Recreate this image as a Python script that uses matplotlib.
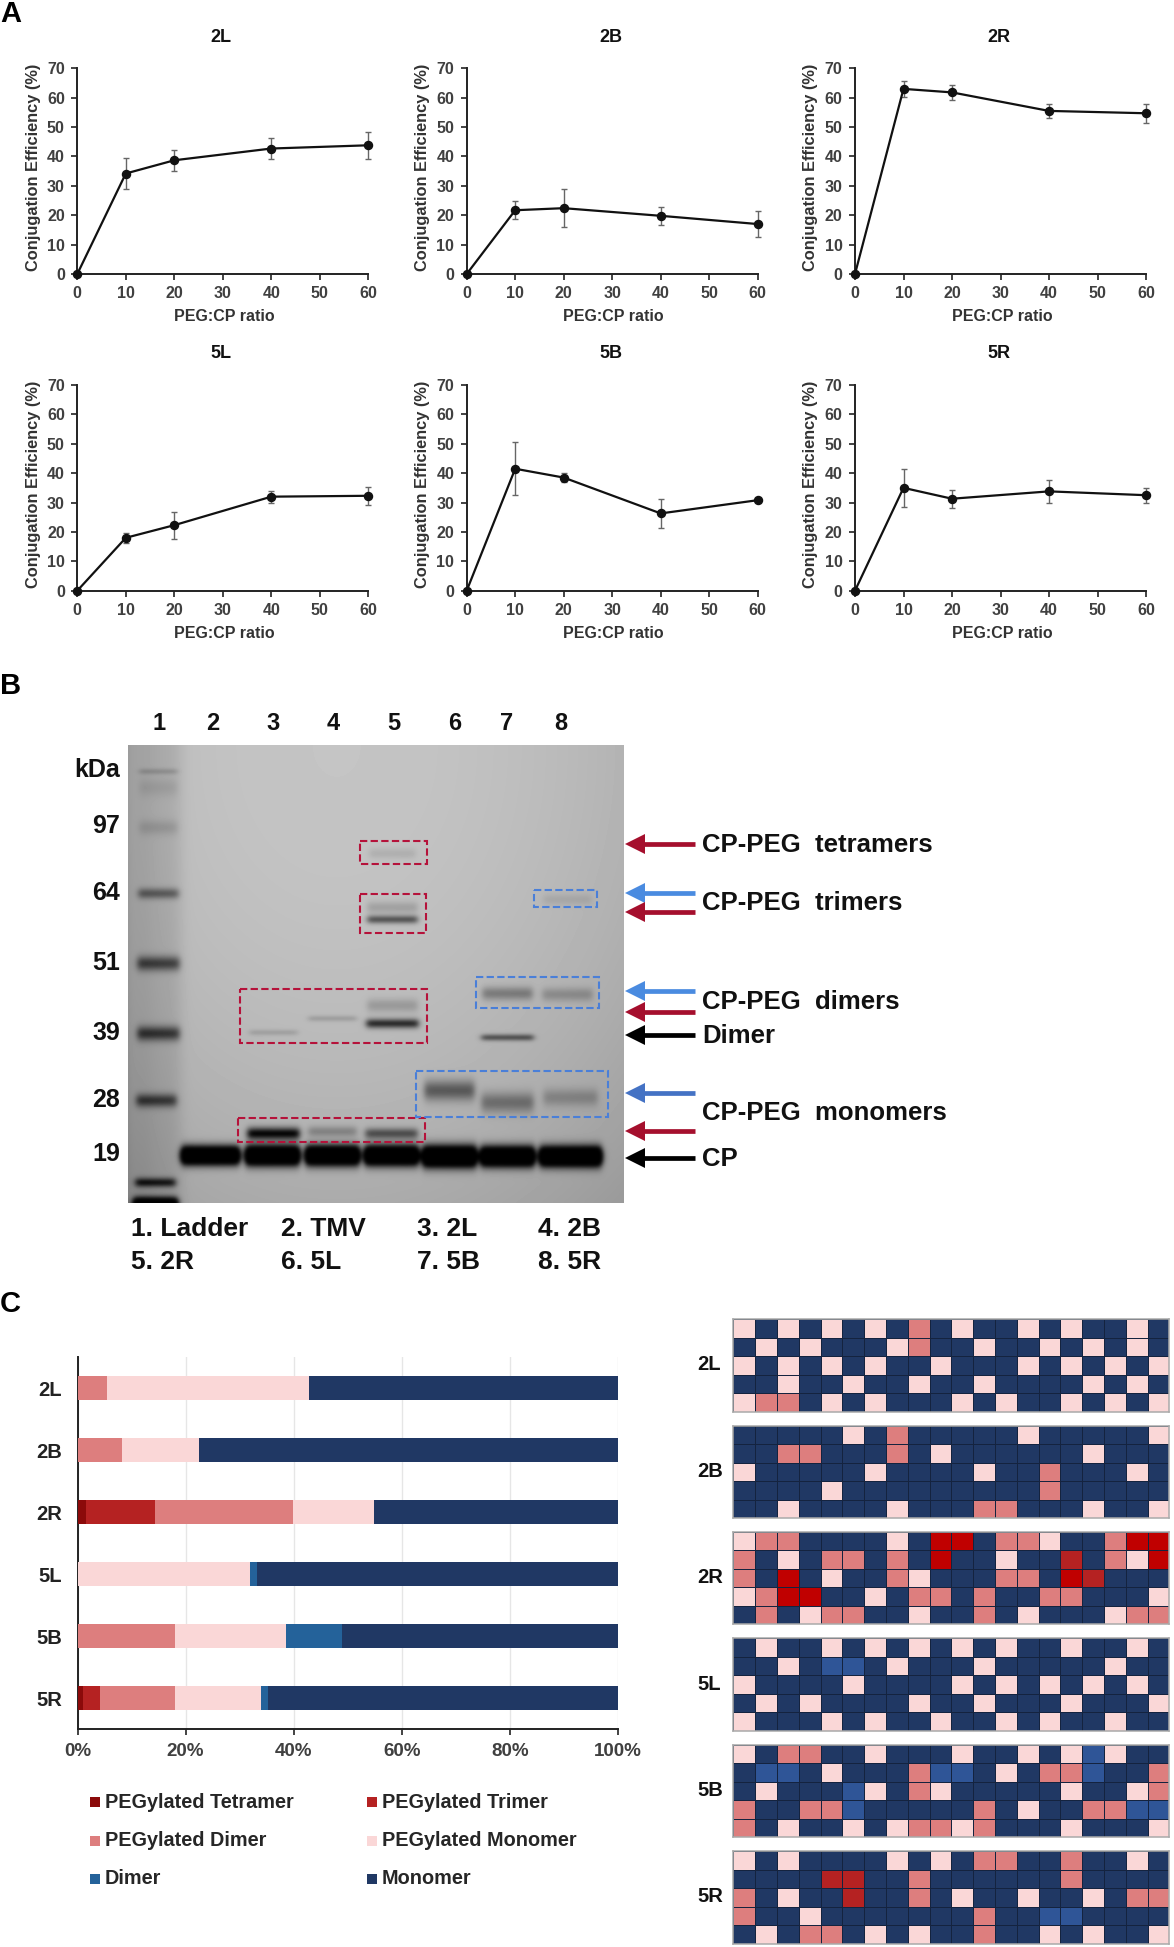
import matplotlib
matplotlib.use('Agg')
import matplotlib.pyplot as plt
import numpy as np
from matplotlib.colors import ListedColormap
from matplotlib.patches import Polygon, Rectangle

plt.rcParams['font.family'] = ['Liberation Sans', 'DejaVu Sans']
plt.rcParams['font.weight'] = 'bold'

W, H = 1174, 1947

# --- panel A data
ratios = [0, 10, 20, 40, 60]
eff_names = ['2L', '2B', '2R', '5L', '5B', '5R']
eff_2L = [0, 34.2, 38.7, 42.7, 43.8]
eff_2B = [0, 21.7, 22.4, 19.8, 17.0]
eff_2R = [0, 63.0, 61.8, 55.5, 54.7]
eff_5L = [0, 18.0, 22.3, 32.0, 32.3]
eff_5B = [0, 41.5, 38.5, 26.3, 30.8]
eff_5R = [0, 35.0, 31.3, 33.8, 32.5]
err_2L = [0, 5.2, 3.5, 3.5, 4.6]
err_2B = [0, 3.0, 6.5, 3.0, 4.3]
err_2R = [0, 2.8, 2.5, 2.3, 3.2]
err_5L = [0, 1.8, 4.6, 2.0, 3.0]
err_5B = [0, 9.0, 1.5, 5.0, 0.3]
err_5R = [0, 6.5, 3.0, 4.0, 2.5]

# --- panel B data: gel bands (lane x, y, half width, y sigma, darkness)
ladder_bands = [(158, 771, 19, 1.5, 0.16), (158, 787, 19, 6, 0.06), (158, 827, 19, 5, 0.09),
                (158, 893, 20, 3.5, 0.33), (158, 963, 21, 5, 0.42), (158, 1033, 21, 5, 0.45),
                (156, 1100, 20, 4.5, 0.42), (155, 1182, 20, 3, 0.55), (155, 1203, 22, 4, 1.2)]
cp_bands = [(210, 1155, 29, 6, 1.6), (272, 1155, 27, 6.5, 1.6), (332, 1155, 27, 6.5, 1.6),
            (391, 1155, 27, 6.5, 1.6), (449, 1156, 27, 7, 1.6), (507, 1156, 27, 6.5, 1.6),
            (570, 1156, 31, 6.5, 1.6)]
peg_bands = [(273, 1133, 26, 4, 0.72), (332, 1131, 24, 3.5, 0.2), (391, 1133, 26, 3.5, 0.42),
             (273, 1032, 24, 1.5, 0.14), (332, 1018, 24, 1.5, 0.16), (392, 1023, 26, 3, 0.62),
             (392, 1005, 25, 4.5, 0.14), (392, 919, 25, 2.5, 0.48), (392, 907, 25, 4, 0.13),
             (392, 853, 23, 3.5, 0.08), (507, 993, 25, 4.5, 0.25), (507, 1037, 26, 1.8, 0.5),
             (567, 994, 25, 4.5, 0.17), (567, 899, 24, 3.5, 0.07), (449, 1090, 25, 7, 0.36),
             (507, 1102, 26, 7, 0.27), (570, 1097, 27, 6, 0.17)]
red_boxes = [(360, 841, 427, 864), (360, 894, 426, 933), (240, 989, 427, 1043), (238, 1118, 425, 1142)]
blue_boxes = [(534, 890, 597, 907), (476, 977, 599, 1008), (416, 1071, 608, 1117)]
lane_labels = ['1', '2', '3', '4', '5', '6', '7', '8']
lane_x = [159, 213, 273, 333, 394, 455, 507, 561]
kda_labels = ['kDa', '97', '64', '51', '39', '28', '19']
kda_y = [770, 826, 893, 963, 1033, 1100, 1154]
band_names = ['CP-PEG  tetramers', 'CP-PEG  trimers', 'CP-PEG  dimers', 'Dimer', 'CP-PEG  monomers', 'CP']
band_name_y = [845, 903, 1002, 1036, 1113, 1159]
arrow_y = [844, 893, 912, 991, 1012, 1035, 1093, 1131, 1158]
arrow_c = ['#a50f2d', '#4a8be0', '#a50f2d', '#4a8be0', '#a50f2d', 'black', '#4472c4', '#a50f2d', 'black']
sample_key = [('1. Ladder', 131, 1229), ('2. TMV', 281, 1229), ('3. 2L', 417, 1229), ('4. 2B', 538, 1229),
              ('5. 2R', 131, 1262), ('6. 5L', 281, 1262), ('7. 5B', 417, 1262), ('8. 5R', 538, 1262)]

# --- panel C data
samples = ['2L', '2B', '2R', '5L', '5B', '5R']
peg_tetramer = [0, 0, 1.5, 0, 0, 1.0]
peg_trimer = [0, 0, 12.9, 0, 0, 3.2]
peg_dimer = [5.4, 8.2, 25.5, 0, 18.0, 13.8]
peg_monomer = [37.4, 14.2, 14.9, 31.9, 20.6, 16.0]
dimer = [0, 0, 0, 1.3, 10.4, 1.3]
monomer = [57.2, 77.6, 45.2, 66.8, 51.0, 64.7]

# N monomer, P peg monomer, D peg dimer, B dimer, T trimer, R trimer (darker)
map_2L = ['PNPNPNPNDNPNNPNPNNPN',
          'NPNPNNNPDNNPNNPNPNPN',
          'PNPNPNPNNPNNNPNPNPNP',
          'NNPNNPNNPNNPNNNNPNPN',
          'PDDNPNPNNNPNPNNPNPNP']
map_2B = ['NNNNNPNDNNNNNPNNNNNP',
          'NNDDNNNDNPNNNNNNPNNN',
          'PNNNNNPNNNNPNNDNNNPN',
          'NNNNPNNNNNNNNNDNNNNN',
          'NNPNNNNPNNNDDNNNPNNP']
map_2R = ['PDDNNNNPNTTNDDPNNDTT',
          'DNPNDDNDNTNNPNNRNDPT',
          'DNTNPNNDPNNNDDNTRNNN',
          'PDTTNNPNDDNDNNDDNNNP',
          'NDNPDDNNPNNDNPNNNPDD']
map_5L = ['NPNNPNPNPNPNPNNPNNPN',
          'NNPNBBNPNNNPNNNNNPNN',
          'PNNNNPNNNNPNPNPNPNPN',
          'NPNPNNNNPNNPNNNPNNNP',
          'PNNNPNPNNPNNPNPNNPNN']
map_5B = ['PNDDNNPNNNPNNPNPBPNN',
          'NBBNPNNNDBBNPNDDBNND',
          'NPNNNBPNDPNNNNNPNNPD',
          'DNNDDBNNNNNDNPNNDDBB',
          'DNPNNPNPDDPDNNNPNNNP']
map_5R = ['PNPNNNNPNPNDDNNDNNPN',
          'NNNNRRNNDNNNNNNDNNNN',
          'DNPNNRNNDNPNNPNNPNDD',
          'DNNPNNNNNNNDNNBBNNNN',
          'NPNDDNPNPNNDNNPNPNNP']
maps = [map_2L, map_2B, map_2R, map_5L, map_5B, map_5R]
map_tops = [1319, 1425.7, 1531.7, 1638, 1744.7, 1851]
map_codes = 'NPDBTR'
map_colors = ['#203864', '#fad7d7', '#dd7e7e', '#2f5597', '#c00000', '#b52222']

fig = plt.figure(figsize=(W / 100, H / 100), dpi=100)


def px_axes(x0, y0, x1, y1):
    # axes from pixel box, y measured from top of image
    return fig.add_axes([x0 / W, 1 - y1 / H, (x1 - x0) / W, (y1 - y0) / H])


# overlay in pixel coords for the gel, arrows and free text
over = fig.add_axes([0, 0, 1, 1])
over.set_xlim(0, W)
over.set_ylim(H, 0)
over.axis('off')

for lab, yy in zip('ABC', [14, 686, 1304]):
    over.text(0, yy, lab, fontsize=21, ha='left', va='center', color='black')

# --- A: line plots
eff_series = [eff_2L, eff_2B, eff_2R, eff_5L, eff_5B, eff_5R]
err_series = [err_2L, err_2B, err_2R, err_5L, err_5B, err_5R]
col_x = [77.3, 466.7, 855]
row_y = [68.3, 385]
for i, name in enumerate(eff_names):
    xl = col_x[i % 3]
    yt = row_y[i // 3]
    ax = px_axes(xl, yt, xl + 291, yt + 205.7)
    ax.errorbar(ratios, eff_series[i], yerr=err_series[i], fmt='none', ecolor='#666666',
                elinewidth=1.0, capsize=2.5, capthick=1.0, clip_on=False, zorder=2)
    ax.plot(ratios, eff_series[i], '-o', color='#111111', lw=1.6, ms=5.8, clip_on=False, zorder=3)
    ax.set_xlim(0, 60)
    ax.set_ylim(0, 70)
    ax.set_xticks(range(0, 70, 10))
    ax.set_yticks(range(0, 80, 10))
    ax.spines['top'].set_visible(False)
    ax.spines['right'].set_visible(False)
    ax.spines['left'].set_linewidth(1.4)
    ax.spines['bottom'].set_linewidth(1.4)
    ax.spines['left'].set_color('#222222')
    ax.spines['bottom'].set_color('#222222')
    ax.tick_params(labelsize=11.5, labelcolor='#404040', length=4, width=1.2, color='#222222', pad=5)
    ax.patch.set_alpha(0)
    over.text(xl + 144, yt - 31, name, fontsize=13, ha='center', va='center', color='#111111')
    over.text(xl + 147, yt + 248, 'PEG:CP ratio', fontsize=11.5, ha='center', va='center', color='#333333')
    over.text(xl - 44, yt + 99, 'Conjugation Efficiency (%)', fontsize=11.8, rotation=90,
              ha='center', va='center', color='#333333')

# --- B: gel picture built from the band lists
gx0, gy0, gx1, gy1 = 128, 745, 624, 1203
yy, xx = np.mgrid[gy0:gy1, gx0:gx1]
u = (xx - gx0) / (gx1 - gx0)
v = (yy - gy0) / (gy1 - gy0)
gel = 0.77 - 0.20 * (u - 0.42) ** 2 - 0.10 * v ** 2 - 0.12 * np.exp(-u / 0.03)
gel -= 0.07 * np.exp(-((xx - 158) / 24.0) ** 4)
for bx, by, hw, sy, dark in ladder_bands + cp_bands + peg_bands:
    across = 0.5 * (np.tanh((xx - bx + hw) / 3.0) - np.tanh((xx - bx - hw) / 3.0))
    gel -= dark * across * np.exp(-0.5 * ((yy - by) / sy) ** 2)
gel = np.clip(gel, 0, 1)
# the scan is soft, blur it a little
kernel = np.exp(-0.5 * (np.arange(-5, 6) / 1.6) ** 2)
kernel /= kernel.sum()
padded = np.pad(gel, 5, mode='edge')
padded = np.apply_along_axis(lambda r: np.convolve(r, kernel, mode='same'), 0, padded)
padded = np.apply_along_axis(lambda r: np.convolve(r, kernel, mode='same'), 1, padded)
gel = padded[5:-5, 5:-5]
over.imshow(gel, cmap='gray', vmin=0, vmax=1, extent=(gx0, gx1, gy1, gy0),
            interpolation='bilinear', aspect='auto')
over.set_xlim(0, W)
over.set_ylim(H, 0)

for boxes, c in [(red_boxes, '#b5123a'), (blue_boxes, '#4a7fd8')]:
    for x0, y0, x1, y1 in boxes:
        over.add_patch(Rectangle((x0, y0), x1 - x0, y1 - y0, fill=False, ec=c, lw=1.5, ls=(0, (3.5, 1.6))))

for t, lx in zip(lane_labels, lane_x):
    over.text(lx, 724, t, fontsize=17, ha='center', va='center', color='#111111')
for t, ky in zip(kda_labels, kda_y):
    over.text(120, ky, t, fontsize=18, ha='right', va='center', color='#111111')

for ay, c in zip(arrow_y, arrow_c):
    over.plot([643, 695], [ay, ay], color=c, lw=3.4, solid_capstyle='butt')
    over.add_patch(Polygon([(625, ay), (645, ay - 10), (645, ay + 10)], closed=True, fc=c, ec='none'))
for t, ty in zip(band_names, band_name_y):
    over.text(702, ty, t, fontsize=18.5, ha='left', va='center', color='#111111')
for t, tx, ty in sample_key:
    over.text(tx, ty, t, fontsize=19, ha='left', va='center', color='#111111')

# --- C: stacked bars
stack = [peg_tetramer, peg_trimer, peg_dimer, peg_monomer, dimer, monomer]
stack_labels = ['PEGylated Tetramer', 'PEGylated Trimer', 'PEGylated Dimer',
                'PEGylated Monomer', 'Dimer', 'Monomer']
stack_colors = ['#8b0a0a', '#b52222', '#dd7e7e', '#fad7d7', '#24629a', '#203864']
ax = px_axes(77.5, 1357, 618, 1729)
ypos = np.arange(len(samples))
left = np.zeros(len(samples))
for vals, c in zip(stack, stack_colors):
    ax.barh(ypos, vals, left=left, height=0.4, color=c, zorder=3)
    left += np.array(vals)
ax.set_xlim(0, 100)
ax.set_ylim(5.5, -0.5)
ax.set_yticks(ypos)
ax.set_yticklabels(samples)
ax.set_xticks(range(0, 120, 20))
ax.set_xticklabels(['%d%%' % p for p in range(0, 120, 20)])
ax.grid(axis='x', color='#e6e6e6', lw=1, zorder=0)
ax.spines['top'].set_visible(False)
ax.spines['right'].set_visible(False)
ax.spines['left'].set_linewidth(1.4)
ax.spines['bottom'].set_linewidth(1.4)
ax.spines['left'].set_color('#222222')
ax.spines['bottom'].set_color('#222222')
ax.tick_params(axis='y', length=0, labelsize=14.5, labelcolor='#222222', pad=11)
ax.tick_params(axis='x', length=4, width=1.2, color='#222222', labelsize=13.5, labelcolor='#404040', pad=6)

leg_x = [90, 367]
leg_y = [1802, 1841, 1879]
for i, (t, c) in enumerate(zip(stack_labels, stack_colors)):
    lx = leg_x[i % 2]
    ly = leg_y[i // 2]
    over.add_patch(Rectangle((lx, ly - 5), 10, 10, fc=c, ec='none'))
    over.text(lx + 15, ly, t, fontsize=14.3, ha='left', va='center', color='#262626')

# --- C: cell maps
cmap = ListedColormap(map_colors)
for name, rows, top in zip(samples, maps, map_tops):
    grid = np.array([[map_codes.index(ch) for ch in r] for r in rows])
    ax = px_axes(733.3, top, 1169.3, top + 92.5)
    ax.pcolormesh(grid, cmap=cmap, vmin=-0.5, vmax=5.5, edgecolors='#14233f', linewidth=0.7)
    ax.set_ylim(5, 0)
    ax.set_xticks([])
    ax.set_yticks([])
    for sp in ax.spines.values():
        sp.set_color('#aaaaaa')
        sp.set_linewidth(1.1)
    over.text(697, top + 46, name, fontsize=14.5, ha='left', va='center', color='#111111')

fig.savefig('out.png', dpi=100)
